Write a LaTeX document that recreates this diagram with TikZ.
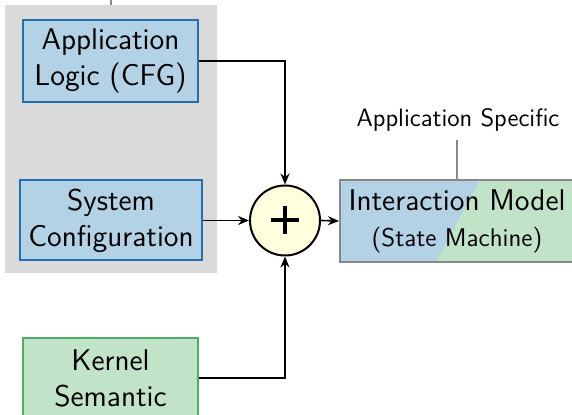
\documentclass[tikz,border=0pt]{standalone}
\usetikzlibrary{arrows.meta,calc,positioning}
\definecolor{boxblue}{HTML}{B4D2E6}
\definecolor{edgeblue}{HTML}{1F70AC}
\definecolor{boxgreen}{HTML}{C1E4C9}
\definecolor{edgegreen}{HTML}{4CAF63}
\definecolor{areagray}{HTML}{D9D9D9}
\definecolor{sumyellow}{HTML}{FFFFDD}
\definecolor{edgegray}{HTML}{888888}
\tikzset{
  blockbase/.style={rectangle, line width=1pt, align=center, inner sep=0pt,
    font=\sffamily\fontsize{15}{18}\selectfont},
  bluebox/.style={blockbase, draw=edgeblue, fill=boxblue},
  greenbox/.style={blockbase, draw=edgegreen, fill=boxgreen},
  sumnode/.style={circle, draw=black, line width=1pt, fill=sumyellow,
    minimum size=35pt, inner sep=0pt,
    path picture={
      \draw[line width=2pt]
        ([xshift=-7pt]path picture bounding box.center) --
        ([xshift=7pt]path picture bounding box.center);
      \draw[line width=2pt]
        ([yshift=-7pt]path picture bounding box.center) --
        ([yshift=7pt]path picture bounding box.center);
    }},
  flow/.style={line width=0.8pt, -{Stealth[length=5.5pt,width=4.5pt]}},
  pinline/.style={draw=edgegray, line width=0.6pt},
}
\begin{document}
\begin{tikzpicture}[x=0.5pt,y=-0.5pt]
  \useasboundingbox (0,0) rectangle (572,415);

  % shaded area behind the application-side inputs
  \node[fill=areagray, minimum width=106pt, minimum height=134pt, inner sep=0pt]
    (area) at (111,139) {};
  \coordinate (areatop) at (111,0);
  \draw[pinline] (area.north) -- (areatop);

  % input blocks
  \node[bluebox, minimum width=87.5pt, minimum height=41pt] (applogic) at (110.5,61)
    {Application\\Logic (CFG)};
  \node[bluebox, minimum width=91pt, minimum height=40pt] (syscfg) at (111,220.5)
    {System\\Configuration};
  \node[greenbox, minimum width=87.5pt, minimum height=40pt] (kernel) at (110.5,378)
    {Kernel\\Semantic};

  % combining junction
  \node[sumnode] (plus) at (285,220.5) {};

  % resulting model, half application (blue) and half kernel (green)
  \node[rectangle, draw=edgegray, line width=1pt, fill=boxblue,
        minimum width=117pt, minimum height=41pt, inner sep=0pt, align=center,
        font=\sffamily,
        path picture={
          \fill[boxgreen]
            ($(path picture bounding box.north west)!0.598!(path picture bounding box.north east)$)
            -- (path picture bounding box.north east)
            -- (path picture bounding box.south east)
            -- ($(path picture bounding box.south west)!0.41!(path picture bounding box.south east)$)
            -- cycle;
        }] (model) at (457,221)
    {{\fontsize{15}{18}\selectfont Interaction Model}\\[6pt]{\fontsize{12.8}{15}\selectfont (State Machine)}};

  \node[font=\sffamily\fontsize{12.6}{15}\selectfont, inner sep=0pt] (appspec) at (458,120) {Application Specific};
  \coordinate (appspecfoot) at (457,140);
  \draw[pinline] (appspecfoot) -- (model.north);

  % connectors
  \draw[flow] (applogic.east) -| (plus.north);
  \draw[flow] (syscfg.east) -- (plus.west);
  \draw[flow] (kernel.east) -| (plus.south);
  \draw[flow] (plus.east) -- (model.west);
\end{tikzpicture}
\end{document}
